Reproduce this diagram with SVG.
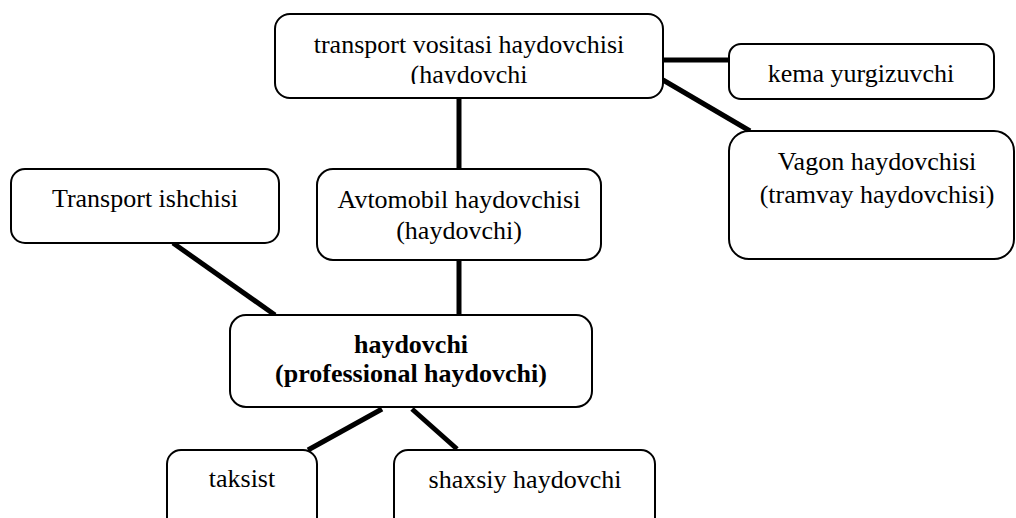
<svg xmlns="http://www.w3.org/2000/svg" width="1016" height="518" viewBox="0 0 1016 518">
<style>
.box{fill:#fff;stroke:#000;stroke-width:2}
.t{font-family:"Liberation Serif","Times New Roman",serif;font-size:26px;fill:#000;text-anchor:middle}
.b{font-weight:bold}
.c{stroke:#000;stroke-width:5;fill:none}
</style>
<defs>
<clipPath id="clipTop"><rect x="270" y="10" width="400" height="74"/></clipPath>
</defs>
<rect width="1016" height="518" fill="#fff"/>
<g id="connectors">
<line class="c" x1="663" y1="60" x2="729" y2="60"/>
<line class="c" x1="663" y1="80" x2="750" y2="131"/>
<line class="c" x1="459" y1="98" x2="459" y2="169"/>
<line class="c" x1="459" y1="260" x2="459" y2="315"/>
<line class="c" x1="173" y1="243" x2="275" y2="315"/>
<line class="c" x1="382" y1="409" x2="308" y2="450"/>
<line class="c" x1="412" y1="409" x2="457" y2="449"/>
</g>
<g id="node-top">
<rect class="box" x="275" y="14" width="388" height="84" rx="15"/>
<text class="t" x="469" y="53">transport vositasi haydovchisi</text>
<text class="t" x="469" y="83" clip-path="url(#clipTop)">(haydovchi</text>
</g>
<g id="node-kema">
<rect class="box" x="729" y="44" width="265" height="55" rx="12"/>
<text class="t" x="861" y="82">kema yurgizuvchi</text>
</g>
<g id="node-vagon">
<rect class="box" x="729" y="131" width="285" height="128" rx="20"/>
<text class="t" x="877" y="170">Vagon haydovchisi</text>
<text class="t" x="877" y="203">(tramvay haydovchisi)</text>
</g>
<g id="node-transport">
<rect class="box" x="11" y="169" width="268" height="74" rx="14"/>
<text class="t" x="145" y="207">Transport ishchisi</text>
</g>
<g id="node-avto">
<rect class="box" x="317" y="169" width="284" height="91" rx="16"/>
<text class="t" x="459" y="208">Avtomobil haydovchisi</text>
<text class="t" x="459" y="239">(haydovchi)</text>
</g>
<g id="node-haydovchi">
<rect class="box" x="230" y="315" width="362" height="92" rx="16"/>
<text class="t b" x="411" y="353">haydovchi</text>
<text class="t b" x="411" y="382">(professional haydovchi)</text>
</g>
<g id="node-taksist">
<rect class="box" x="167" y="450" width="150" height="90" rx="14"/>
<text class="t" x="242" y="487">taksist</text>
</g>
<g id="node-shaxsiy">
<rect class="box" x="394" y="450" width="261" height="90" rx="14"/>
<text class="t" x="525" y="488">shaxsiy haydovchi</text>
</g>
</svg>
